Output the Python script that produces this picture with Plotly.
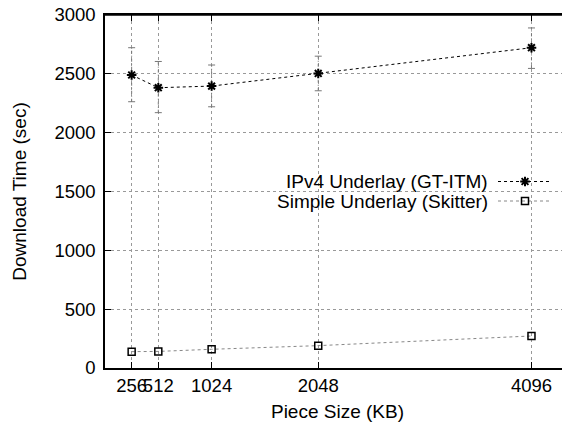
import plotly.graph_objects as go

piece_sizes = [256, 512, 1024, 2048, 4096]
ipv4_mean = [2490, 2382, 2396, 2503, 2722]
ipv4_hi = [2722, 2605, 2575, 2650, 2890]
ipv4_lo = [2263, 2170, 2220, 2356, 2546]
simple_mean = [139, 141, 159, 190, 272]
y_ticks = [0, 500, 1000, 1500, 2000, 2500, 3000]
series_names = ["IPv4 Underlay (GT-ITM)", "Simple Underlay (Skitter)"]

FONT = "Liberation Sans, Arial, sans-serif"
# page body has an 8px margin; figure is sized so the plot lands where the reference's does
OFF = 8

fig = go.Figure()

# error bars as dotted vertical segments with small caps
err_x, err_y = [], []
for x, lo, hi in zip(piece_sizes, ipv4_lo, ipv4_hi):
    err_x += [x, x, None]
    err_y += [lo, hi, None]
fig.add_trace(go.Scatter(
    x=err_x, y=err_y, mode="lines", line=dict(color="#777", width=1, dash="3px,2px,1px,2px"),
    showlegend=False, hoverinfo="skip"))
fig.add_trace(go.Scatter(
    x=piece_sizes + piece_sizes, y=ipv4_lo + ipv4_hi, mode="markers",
    marker=dict(symbol="line-ew-open", size=5, color="#777", line=dict(color="#777", width=1)),
    showlegend=False, hoverinfo="skip"))

fig.add_trace(go.Scatter(
    x=piece_sizes, y=ipv4_mean, mode="lines+markers", name=series_names[0],
    line=dict(color="black", width=1, dash="3px,3px"),
    marker=dict(symbol="asterisk-open", size=8, color="black", line=dict(color="black", width=2)),
    showlegend=False,
))
fig.add_trace(go.Scatter(
    x=piece_sizes, y=simple_mean, mode="lines+markers", name=series_names[1],
    line=dict(color="#888", width=1, dash="dot"),
    marker=dict(symbol="square-open", size=7, color="black", line=dict(color="black", width=1.5)),
    showlegend=False,
))

# legend key samples on an overlay axis in window-pixel coordinates
fig.add_trace(go.Scatter(
    x=[498, 525, 550], y=[181.5, 181.5, 181.5], xaxis="x2", yaxis="y2",
    mode="lines", line=dict(color="black", width=1, dash="3px,3px"), showlegend=False, hoverinfo="skip"))
fig.add_trace(go.Scatter(
    x=[525], y=[181.5], xaxis="x2", yaxis="y2", mode="markers",
    marker=dict(symbol="asterisk-open", size=8, color="black", line=dict(color="black", width=2)),
    showlegend=False, hoverinfo="skip"))
fig.add_trace(go.Scatter(
    x=[498, 525, 550], y=[201, 201, 201], xaxis="x2", yaxis="y2",
    mode="lines", line=dict(color="#888", width=1, dash="dot"), showlegend=False, hoverinfo="skip"))
fig.add_trace(go.Scatter(
    x=[525], y=[201], xaxis="x2", yaxis="y2", mode="markers",
    marker=dict(symbol="square-open", size=7, color="black", line=dict(color="black", width=1.5)),
    showlegend=False, hoverinfo="skip"))

fig.add_annotation(x=490, y=181.5, xref="x2", yref="y2", text=series_names[0], showarrow=False,
                   xanchor="right", yanchor="middle", font=dict(family=FONT, size=19, color="black"))
fig.add_annotation(x=490, y=201, xref="x2", yref="y2", text=series_names[1], showarrow=False,
                   xanchor="right", yanchor="middle", font=dict(family=FONT, size=19, color="black"))

# white key box hiding grid (paper coords of main plot area)
fig.add_shape(type="rect", xref="paper", yref="paper",
              x0=(202 - 105) / 465, x1=(561 - 105) / 465,
              y0=(368 - 212) / 353, y1=(368 - 170) / 353,
              fillcolor="white", line=dict(width=0), layer="between")
# top border of the frame
fig.add_shape(type="line", xref="paper", yref="paper", x0=0, x1=1, y0=1, y1=1,
              line=dict(color="black", width=1.5), layer="above")

fig.update_layout(
    width=570 - OFF, height=429 - OFF,
    margin=dict(l=105 - OFF, r=0, t=15 - OFF, b=61, autoexpand=False),
    paper_bgcolor="white", plot_bgcolor="white",
    font=dict(family=FONT, size=18.5, color="black"),
    xaxis=dict(
        range=[0, 4466], tickvals=piece_sizes, ticktext=[str(v) for v in piece_sizes],
        tickangle=0, automargin=False, ticklabeloverflow="allow",
        showgrid=True, gridcolor="#999", griddash="dot", gridwidth=1,
        showline=True, linecolor="black", linewidth=1.5, mirror="ticks",
        ticks="inside", ticklen=6, tickcolor="black", zeroline=False,
        title=dict(text="Piece Size (KB)", font=dict(size=19), standoff=10),
    ),
    yaxis=dict(
        range=[0, 3000], tickvals=y_ticks, automargin=False, ticklabeloverflow="allow",
        showgrid=True, gridcolor="#999", griddash="dot", gridwidth=1,
        showline=True, linecolor="black", linewidth=1.5, mirror=False,
        ticks="inside", ticklen=6, tickcolor="black", zeroline=False,
        ticklabelstandoff=4,
        title=dict(text="Download Time (sec)", font=dict(size=19), standoff=23),
    ),
    xaxis2=dict(range=[105, 570], overlaying="x", visible=False, fixedrange=True),
    yaxis2=dict(range=[368, 15], overlaying="y", visible=False, fixedrange=True),
)

fig.write_html("out.html")
